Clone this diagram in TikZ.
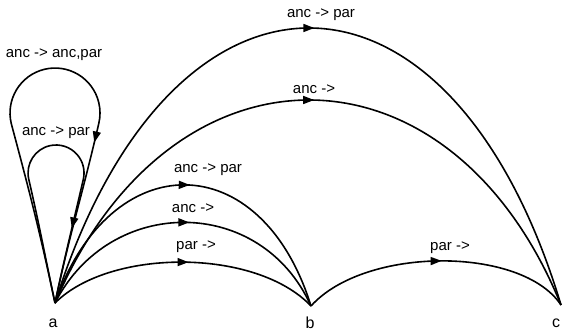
\documentclass[tikz,border=0pt]{standalone}
\usepackage{fontspec}
\setmainfont{Liberation Sans}
\usetikzlibrary{decorations.markings,arrows.meta}
\tikzset{
  edge/.style={line width=1.6pt, line join=round, postaction={decorate},
    decoration={markings, mark=at position #1 with {\arrow[xshift=5pt]{Triangle[length=11pt,width=8pt]}}}},
  edge/.default=0.5,
  lbl/.style={font=\fontsize{15}{15}\selectfont, inner sep=0pt},
  ptlbl/.style={font=\fontsize{16}{16}\selectfont, inner sep=0pt}
}
\begin{document}
\begin{tikzpicture}[x=1pt,y=1pt]
\useasboundingbox (0,0) rectangle (563,333);
% points
\coordinate (a) at (55,30);
\coordinate (b) at (311,27);
\coordinate (c) at (561,28);
\node[ptlbl] (la) at (53,10) {a};
\node[ptlbl] (lb) at (310,10) {b};
\node[ptlbl] (lc) at (556,10) {c};
% loop tangent points
\coordinate (P1) at (11.3,209.3);
\coordinate (P2) at (28.7,154);
% loops
\draw[edge=0.68] (a) to[out=102,in=-75] (P1) arc[start angle=193.7, end angle=-13.7, radius=45] to[out=-103,in=78] (a);
\draw[edge=0.77] (a) to[out=102,in=-77] (P2) arc[start angle=192.4, end angle=-12.4, radius=28] to[out=-103,in=78] (a);
% a -> c
\draw[edge] (a) .. controls (170,397) and (450,397) .. (c);
\draw[edge] (a) .. controls (170,301) and (450,301) .. (c);
% a -> b
\draw[edge] (a) .. controls (110,188) and (261,188) .. (b);
\draw[edge] (a) .. controls (110,138) and (261,138) .. (b);
\draw[edge] (a) .. controls (110,85) and (256,85) .. (b);
% b -> c
\draw[edge] (b) .. controls (365,87) and (522,87) .. (c);
% labels
\node[lbl] (t1) at (54,278) {anc -> anc,par};
\node[lbl] (t2) at (56,200) {anc -> par};
\node[lbl] (t3) at (321,318) {anc -> par};
\node[lbl] (t4) at (314,244) {anc ->};
\node[lbl] (t5) at (208,163) {anc -> par};
\node[lbl] (t6) at (193,125) {anc ->};
\node[lbl] (t7) at (196,86) {par ->};
\node[lbl] (t8) at (450,85) {par ->};
\end{tikzpicture}
\end{document}
